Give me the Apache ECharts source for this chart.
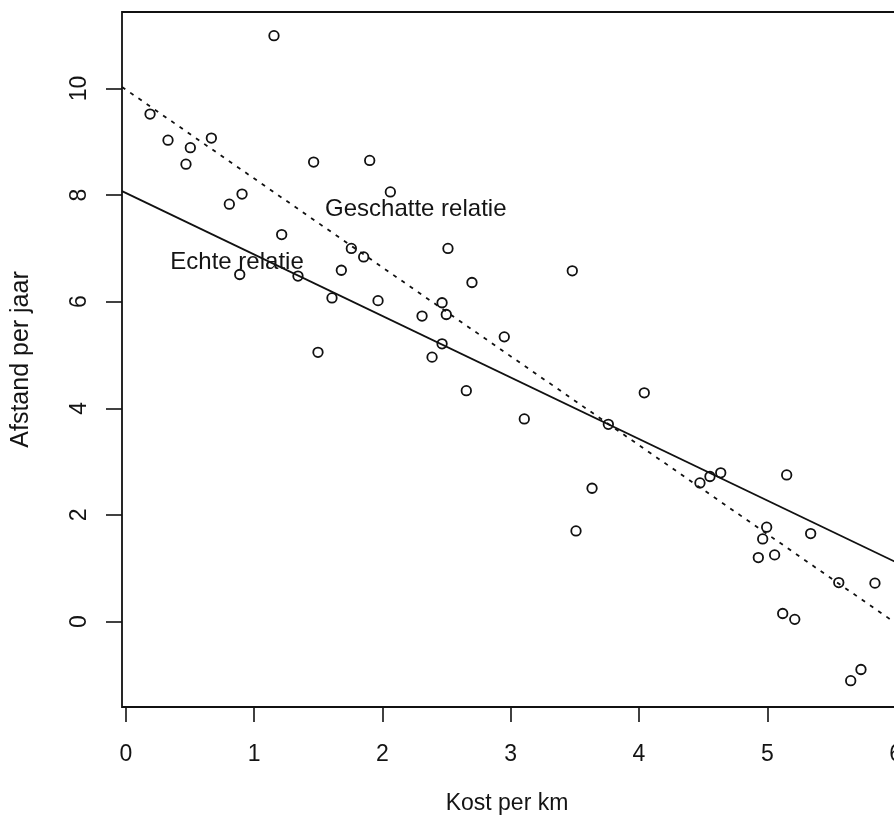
<!DOCTYPE html>
<html>
<head>
<meta charset="utf-8">
<script src="https://cdn.jsdelivr.net/npm/echarts@6/dist/echarts.min.js"></script>
<style>
  html, body { margin: 0; padding: 0; background: #fff; overflow: hidden; }
  /* the plot box runs a little past the right edge of the window */
  #chart { width: 930px; height: 823px; }
</style>
</head>
<body>
<div id="chart"></div>
<script>
// Observations: cost per km (x) against distance per year (y)
const kost = [
  1.155, 0.189, 0.329, 0.503, 0.667, 0.469, 1.464, 1.901, 2.062, 0.807,
  0.906, 1.215, 2.511, 1.758, 1.854, 1.680, 0.888, 1.342, 1.607, 1.966,
  2.698, 2.465, 2.498, 2.309, 2.950, 2.465, 2.387, 1.498, 3.480, 2.654,
  4.041, 3.106, 3.761, 4.475, 4.553, 4.637, 5.151, 4.995, 4.964, 4.930,
  5.057, 5.338, 5.557, 5.839, 5.120, 5.214, 5.730, 5.650, 3.634, 3.509
];
const afstand = [
  10.99, 9.52, 9.03, 8.89, 9.07, 8.58, 8.62, 8.65, 8.06, 7.83,
  8.02, 7.26, 7.00, 7.00, 6.84, 6.59, 6.51, 6.48, 6.07, 6.02,
  6.36, 5.98, 5.76, 5.73, 5.34, 5.21, 4.96, 5.05, 6.58, 4.33,
  4.29, 3.80, 3.70, 2.60, 2.72, 2.79, 2.75, 1.77, 1.55, 1.20,
  1.25, 1.65, 0.73, 0.72, 0.15, 0.04, -0.90, -1.11, 2.50, 1.70
];

// Relations: intercept and slope
const echteRelatie = { intercept: 8.04, slope: -1.154 };
const geschatteRelatie = { intercept: 9.98, slope: -1.668 };

// Line captions and their anchor points in data units
const captions = ['Echte relatie', 'Geschatte relatie'];
const captionX = [0.867, 2.26];
const captionY = [6.73, 7.74];

// Tick labels
const xTicks = [0, 1, 2, 3, 4, 5, 6];
const yTicks = [0, 2, 4, 6, 8, 10];

const xRange = [-0.0296, 6.081];
const yRange = [-1.604, 11.435];

const FONT = "'Liberation Sans', Arial, sans-serif";
const INK = '#141414';

function lineData(rel) {
  return xRange.map(x => [x, rel.intercept + rel.slope * x]);
}

const points = kost.map((x, i) => [x, afstand[i]]);
const captionData = captions.map((t, i) => ({ name: t, value: [captionX[i], captionY[i]] }));

const chart = echarts.init(document.getElementById('chart'), null, { renderer: 'canvas' });

chart.setOption({
  animation: false,
  backgroundColor: '#ffffff',
  grid: {
    left: 122, top: 12, width: 784, height: 695,
    show: true, borderColor: '#111', borderWidth: 1.8, backgroundColor: 'transparent'
  },
  xAxis: {
    type: 'value',
    min: xRange[0], max: xRange[1],
    name: 'Kost per km',
    nameLocation: 'middle',
    nameGap: 85,
    nameTextStyle: { fontFamily: FONT, fontSize: 23, color: INK, padding: [0, 14, 0, 0] },
    splitLine: { show: false },
    axisLine: { show: false, onZero: false },
    axisTick: { show: true, length: 15, lineStyle: { color: '#111', width: 1.6 }, customValues: xTicks },
    axisLabel: { fontFamily: FONT, fontSize: 23, color: INK, margin: 36, customValues: xTicks }
  },
  yAxis: {
    type: 'value',
    min: yRange[0], max: yRange[1],
    name: 'Afstand per jaar',
    nameLocation: 'middle',
    nameRotate: 90,
    nameGap: 88,
    nameTextStyle: { fontFamily: FONT, fontSize: 25, color: INK },
    splitLine: { show: false },
    axisLine: { show: false, onZero: false },
    axisTick: { show: true, length: 16, lineStyle: { color: '#111', width: 1.6 }, customValues: yTicks },
    axisLabel: { fontFamily: FONT, fontSize: 23, color: INK, rotate: 90, margin: 31, customValues: yTicks }
  },
  series: [
    {
      name: 'Waarnemingen',
      type: 'scatter',
      data: points,
      symbol: 'circle',
      symbolSize: 9.5,
      itemStyle: { color: 'transparent', borderColor: '#111', borderWidth: 1.8, opacity: 1 },
      z: 3
    },
    {
      name: 'Echte relatie',
      type: 'line',
      data: lineData(echteRelatie),
      showSymbol: false,
      lineStyle: { color: '#111', width: 1.8, type: 'solid' },
      z: 2
    },
    {
      name: 'Geschatte relatie',
      type: 'line',
      data: lineData(geschatteRelatie),
      showSymbol: false,
      lineStyle: { color: '#111', width: 1.8, type: [4, 6] },
      z: 2
    },
    {
      name: 'Bijschriften',
      type: 'scatter',
      data: captionData,
      symbolSize: 0,
      silent: true,
      itemStyle: { opacity: 1 },
      label: {
        show: true,
        position: 'inside',
        formatter: p => p.name,
        fontFamily: FONT,
        fontSize: 24,
        color: INK
      },
      z: 4
    }
  ]
});
</script>
</body>
</html>
